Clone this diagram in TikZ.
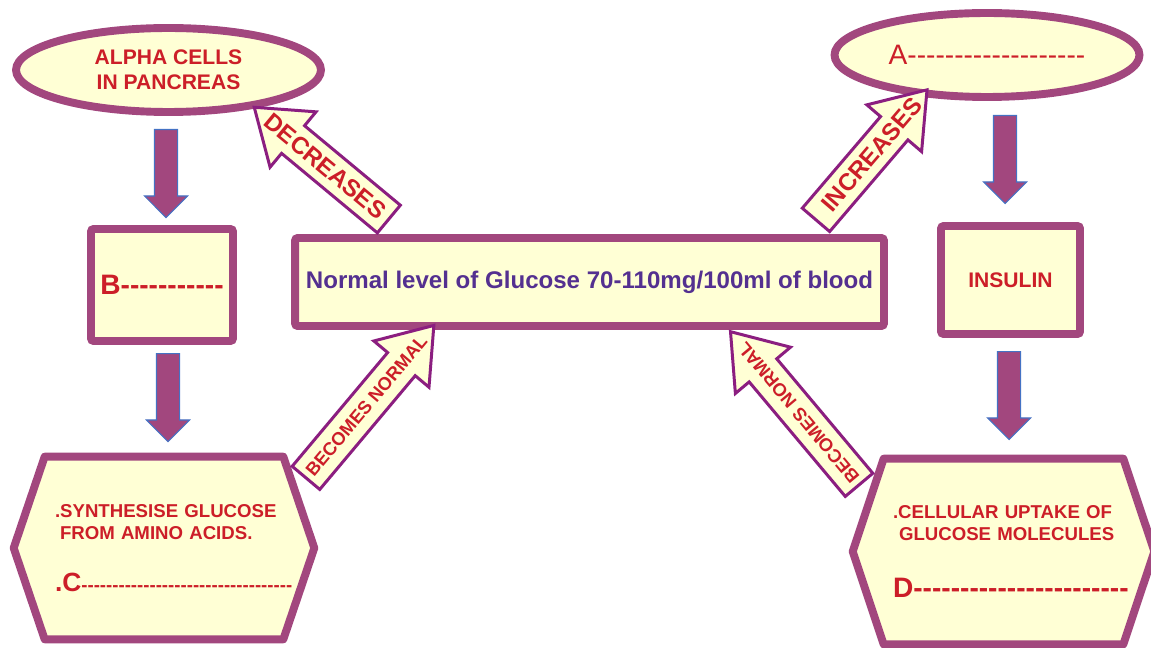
\documentclass[tikz,border=0pt]{standalone}
\usepackage{fontspec}
\setmainfont{Liberation Sans}[Ligatures=TeXOff]
\usetikzlibrary{shapes.geometric,shapes.arrows,calc,backgrounds}

\definecolor{boxline}{RGB}{162,71,126}
\definecolor{boxfill}{RGB}{255,255,213}
\definecolor{arrline}{RGB}{139,30,128}
\definecolor{txtred}{RGB}{204,30,40}
\definecolor{txtpurple}{RGB}{84,48,144}
\definecolor{downline}{RGB}{68,114,196}

\newcommand\dashrow[1]{\foreach \k in {1,...,#1}{-}}

\tikzset{
  ovalnode/.style={ellipse, draw=boxline, fill=boxfill, line width=4.5pt,
    minimum width=6.1cm, minimum height=1.68cm, inner sep=0pt,
    text=txtred, font=\fontsize{12}{14}\selectfont\bfseries, align=center},
  levelbox/.style={draw=boxline, fill=boxfill, line width=4.5pt, rounded corners=1.5pt,
    inner sep=0pt, text=txtred, font=\fontsize{12}{14}\selectfont\bfseries},
  hexnode/.style={inner ysep=0pt, text=txtred, align=left,
    font=\fontsize{10.6}{12.5}\selectfont\bfseries},
  hexline/.style={draw=boxline, fill=boxfill, line width=4.5pt, line join=round},
  downarrow/.style={single arrow, draw=downline, fill=boxline, line width=0.6pt,
    rotate=-90, anchor=tail, inner xsep=0pt, inner ysep=0.22cm,
    single arrow head extend=0.2cm, single arrow tip angle=90, minimum height=1.76cm},
  blockarrow/.style={single arrow, draw=arrline, fill=boxfill, line width=1.7pt,
    anchor=tail, inner xsep=0pt, inner ysep=0.33cm,
    single arrow head extend=0.36cm, single arrow tip angle=71},
  arrowtext/.style={text=txtred, font=\fontsize{13.7}{16}\selectfont\bfseries, inner sep=0pt},
  smallarrowtext/.style={text=txtred, font=\fontsize{10.4}{12}\selectfont\bfseries, inner sep=0pt}
}

\begin{document}
\begin{tikzpicture}[x=0.02cm, y=-0.02cm]
\useasboundingbox (0,0) rectangle (1151,648);

% top row
\node[ovalnode] (alpha) at (168.5,70) {ALPHA CELLS\\IN PANCREAS};
\node[ovalnode, font=\fontsize{16}{18}\selectfont] (cellA) at (987,55) {A\dashrow{19}};

% middle row
\node[levelbox, minimum width=2.84cm, minimum height=2.24cm,
  font=\fontsize{16}{18}\selectfont\bfseries] (cellB) at (162,285) {B\dashrow{11}};
\node[levelbox, minimum width=11.78cm, minimum height=1.76cm, text=txtpurple,
  font=\fontsize{13.7}{16}\selectfont\bfseries] (normal) at (589.5,282)
  {Normal level of Glucose 70-110mg/100ml of blood};
\node[levelbox, minimum width=2.78cm, minimum height=2.16cm] (insulin) at (1010.5,280) {INSULIN};

% bottom row
\node[hexnode, minimum width=4.76cm, minimum height=3.64cm, text width=4.36cm,
  inner xsep=0.2cm] (synth) at (164,548)
  {\mbox{.SYNTHESISE GLUCOSE}\\\mbox{\hspace*{0.1cm}FROM AMINO ACIDS.}\\[17pt]%
   \mbox{{\fontsize{15}{18}\selectfont .C}\dashrow{34}}};
\node[hexnode, minimum width=4.78cm, minimum height=3.7cm, text width=4.42cm,
  inner xsep=0.18cm] (uptake) at (1003.5,551.5)
  {\mbox{.CELLULAR UPTAKE OF}\\\mbox{\hspace*{0.12cm}GLUCOSE MOLECULES}\\[19.5pt]%
   \mbox{\fontsize{16}{18}\selectfont D\dashrow{23}}};

\begin{scope}[on background layer]
  \foreach \hx in {synth, uptake}
    \draw[hexline] (\hx.north west) -- (\hx.north east) -- ($(\hx.east)+(31,0)$)
      -- (\hx.south east) -- (\hx.south west) -- ($(\hx.west)+(-31,0)$) -- cycle;
\end{scope}

% down arrows
\node[downarrow] (down1) at (166,129) {};
\node[downarrow] (down2) at (168,353) {};
\node[downarrow] (down3) at (1005,115) {};
\node[downarrow] (down4) at (1009,351) {};

% block arrows
\node[blockarrow, rotate=-39.7, shape border rotate=180, minimum height=3.5cm] (decr) at (390,220) {};
\node[arrowtext, rotate=-39.7] (decrtext) at ($(decr.tail)!0.47!(decr.tip)$) {DECREASES};

\node[blockarrow, rotate=49.5, minimum height=3.42cm] (incr) at (815,221) {};
\node[arrowtext, rotate=49.5] (incrtext) at ($(incr.tail)!0.5!(incr.tip)$) {INCREASES};

\node[blockarrow, rotate=50, minimum height=3.98cm] (normleft) at (305,479) {};
\node[smallarrowtext, rotate=50] (normlefttext) at ($(normleft.tail)!0.47!(normleft.tip)$) {BECOMES NORMAL};

\node[blockarrow, rotate=130, minimum height=4cm] (normright) at (860,486) {};
\node[smallarrowtext, rotate=130] (normrighttext) at ($(normright.tail)!0.47!(normright.tip)$) {BECOMES NORMAL};

\end{tikzpicture}
\end{document}
